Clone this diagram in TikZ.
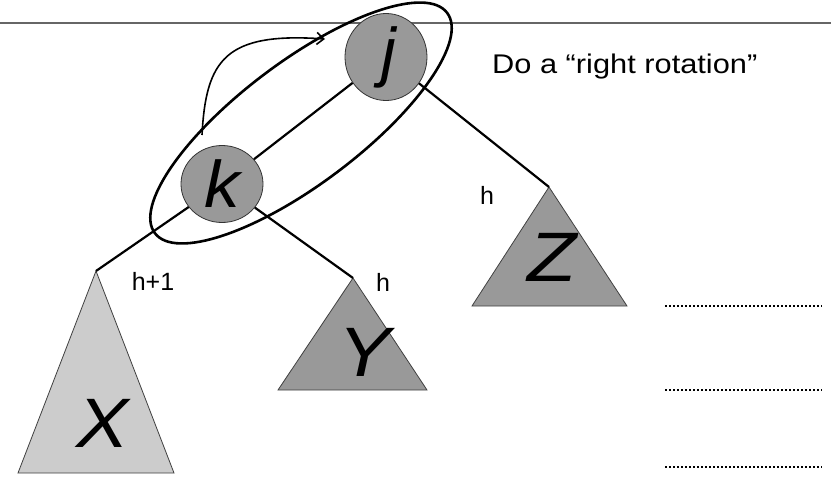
\documentclass[tikz,border=0pt]{standalone}
\usepackage{fontspec}
\setmainfont{Liberation Sans}
\usetikzlibrary{shapes.geometric,arrows.meta}
\begin{document}
\begin{tikzpicture}[x=1pt,y=-1pt,
  treenode/.style={ellipse,draw=black!80,line width=0.8pt,fill=black!40,minimum width=82pt,minimum height=77pt,inner sep=0pt,font=\fontsize{66}{66}\selectfont\itshape},
  subtree/.style={draw=black!75,line width=0.8pt},
  edge/.style={line width=2.2pt},
  lbl/.style={font=\fontsize{25}{25}\selectfont,inner sep=0pt},
  bigletter/.style={font=\fontsize{70}{70}\selectfont\itshape,inner sep=0pt},
  dotline/.style={line width=1.6pt,dash pattern=on 1.6pt off 2.4pt}]
\useasboundingbox (0,0) rectangle (831,477);
\fill[white] (0,0) rectangle (831,477);
% top rule
\draw[black!60,line width=1.4pt] (0,23) -- (831,23);
% subtrees
\coordinate (xa) at (96,271);
\coordinate (ya) at (353,278);
\coordinate (za) at (549,187);
\filldraw[subtree,fill=black!20] (xa) -- (174,473) -- (18,473) -- cycle;
\filldraw[subtree,fill=black!40] (ya) -- (427,390) -- (278,390) -- cycle;
\filldraw[subtree,fill=black!40] (za) -- (627,306) -- (472,306) -- cycle;
\node[bigletter] (xl) at (103,423) {\scalebox{1.12}[1]{X}};
\node[bigletter] (yl) at (365,352) {\scalebox{1.12}[1]{Y}};
\node[bigletter] (zl) at (552,257) {\scalebox{1.15}[1]{Z}};
% tree nodes
\node[treenode] (j) at (386,57) {\raisebox{0pt}{\kern6pt j}};
\node[treenode] (k) at (222,184) {\scalebox{1.08}[1]{k}};
% edges
\draw[edge] (j) -- (k);
\draw[edge] (j) -- (za);
\draw[edge] (k) -- (xa);
\draw[edge] (k) -- (ya);
% rotation ellipse
\draw[line width=2.6pt,rotate around={37:(301,123)}] (301,123) ellipse [x radius=183pt, y radius=61pt];
% rotation arrow
\coordinate (as) at (202,135);
\coordinate (ae) at (325,39);
\draw[line width=1.6pt,-{Straight Barb[length=7pt,width=12pt]}] (as) .. controls (206,60) and (225,32) .. (ae);
% labels
\node[lbl] (l1) at (153,281) {h+1};
\node[lbl] (l2) at (383,282) {h};
\node[lbl] (l3) at (487,195) {h};
\node[font=\fontsize{27}{27}\selectfont,inner sep=0pt,anchor=west] (title) at (492,67) {\scalebox{1.14}[1]{Do a “right rotation”}};
% dotted lines
\coordinate (d1a) at (665,306); \coordinate (d1b) at (822,306);
\coordinate (d2a) at (665,390); \coordinate (d2b) at (822,390);
\coordinate (d3a) at (665,467); \coordinate (d3b) at (822,467);
\draw[dotline] (d1a) -- (d1b);
\draw[dotline] (d2a) -- (d2b);
\draw[dotline] (d3a) -- (d3b);
\end{tikzpicture}
\end{document}
